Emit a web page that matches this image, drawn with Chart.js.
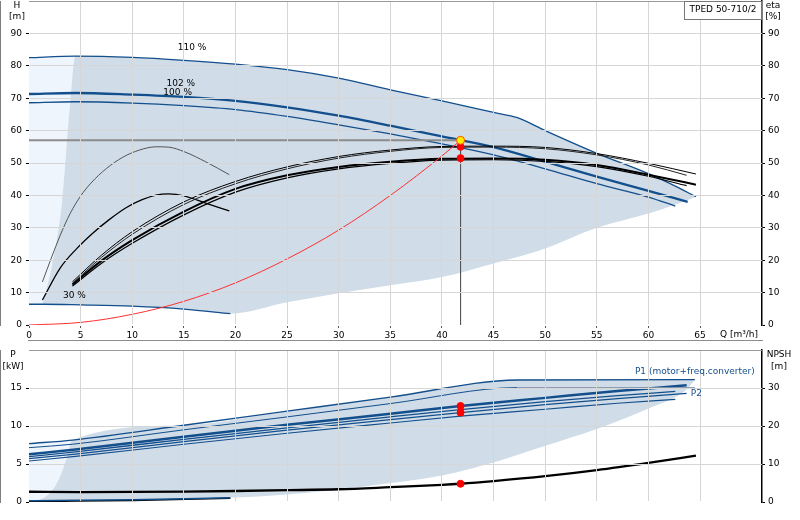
<!DOCTYPE html>
<html>
<head>
<meta charset="utf-8">
<title>TPED 50-710/2</title>
<script src="https://cdn.jsdelivr.net/npm/chart.js@4.4.1/dist/chart.umd.min.js"></script>
<style>
    html, body { margin: 0; padding: 0; background: #fff; }
    #wrap { position: relative; width: 800px; height: 520px; overflow: hidden; }
    canvas { position: absolute; left: 0; }
    #topChart { top: -4px; }
    #bottomChart { top: 340px; }
</style>
</head>
<body>
<div id="wrap">
    <canvas id="topChart" width="800" height="344"></canvas>
    <canvas id="bottomChart" width="800" height="180"></canvas>
</div>
<script>
// ============================================================
// TPED 50-710/2 - pump performance curves
// ============================================================

const BLUE = '#134f8c';
const SHADE = '#d0dce8';
const SHADE_LIGHT = '#eef5fc';
const GRID = '#d6d6d6';

// ---------------- Q-H (Q in m3/h, H in m) ----------------
const q110 = [0, 4.5, 10, 15, 20, 25, 30, 35, 40, 45, 47.3, 50, 55, 60, 62.5, 64.6];
const h110 = [82.5, 83, 82.6, 81.7, 80.5, 78.8, 76.2, 72.6, 69.2, 65.6, 64, 60, 53, 46.7, 43, 39.6];
const q102 = [0, 4.5, 10, 15, 20, 25, 30, 35, 40, 45, 50, 55, 60, 63.8];
const h102 = [71.3, 71.6, 71.1, 70.4, 69.2, 67.2, 64.6, 61.5, 58.2, 54.9, 50.4, 45.8, 41.4, 38];
const q100 = [0, 4.5, 10, 15, 20, 25, 30, 35, 40, 45, 50, 55, 60, 62.6];
const h100 = [68.6, 68.9, 68.5, 67.7, 66.5, 64.4, 61.8, 59, 55.9, 52.5, 48.2, 43.6, 39.5, 36.7];
const q30 = [0, 1.3, 5, 10, 15, 19.5];
const h30 = [6.4, 6.4, 6.2, 5.8, 4.9, 3.5];

// limits of the operating range
const qMinEdge = [1.3, 2.2, 3.2, 4.0];
const hMinEdge = [6.4, 18, 38, 69];
const qLowEdge = [19.5, 25, 30, 35, 40, 45, 50, 55, 60, 62.5, 64.6];
const hLowEdge = [3.5, 7, 9.8, 12.3, 14.8, 19, 23.6, 30, 34.4, 37, 39.6];

// system curve
const qSys = [0, 5, 10, 15, 20, 25, 30, 35, 40, 41.8];
const hSys = [0, 0.8, 3.3, 7.3, 13, 20.4, 29.3, 40, 52.2, 57];

// ---------------- efficiency (eta in %) ----------------
const qEtaA = [1.3, 2.2, 3, 4, 5, 6, 7.5, 9.1, 10.7, 12.3, 13.5, 15.1, 17.1, 19.4];
const etaA = [13.3, 21, 27.5, 34.5, 39.8, 43.8, 48.3, 51.8, 54, 55, 54.9, 53.4, 50.4, 46.4];
const qEtaB = [1.3, 3, 4.6, 6.2, 7.8, 9.4, 10.9, 12.3, 13.5, 15.1, 17.1, 19.4];
const etaB = [7.7, 17.5, 23.5, 28.4, 32.6, 36.2, 38.6, 40.1, 40.5, 39.8, 37.6, 35.2];
const qEtaLong = [4.2, 7, 10, 15, 20, 25, 30, 35, 40, 45, 50, 55, 60, 64.6];
const qEtaShort = [4.2, 7, 10, 15, 20, 25, 30, 35, 40, 45, 50, 55, 60, 63.7];
const etaU1 = [13.3, 21.5, 28.8, 38, 44.3, 48.8, 52, 54, 55.1, 55.2, 54.8, 52.9, 49.9, 46.6];
const etaU2 = [12.8, 20.8, 28, 37.2, 43.6, 48.2, 51.5, 53.6, 54.8, 54.9, 54.4, 52.5, 49.4, 46.2];
const etaL1 = [12.5, 19.8, 26.2, 35, 42, 46.2, 48.8, 50.4, 51.3, 51.4, 51, 49.4, 46.4, 43.3];
const etaL2 = [12, 19, 25.2, 34, 41, 45.4, 48.2, 49.9, 50.9, 51, 50.5, 48.9, 45.9, 43];

// duty point
const qDuty = [41.8];
const hDuty = [57];
const etaDuty = [55, 51.5];

// ---------------- power (kW) and NPSH (m) ----------------
const qP1max = [0, 4.2, 15, 25, 35, 47.3, 64.5];
const pP1max = [7.68, 8.15, 10.1, 11.95, 13.8, 16.05, 16.1];
const qP2max = [0, 4.2, 15, 25, 35, 47.3, 64.5];
const pP2max = [7.15, 7.6, 9.5, 11.2, 12.95, 15.05, 15.05];
const qP102 = [0, 4.5, 15, 25, 35, 41.8, 50, 57, 63.7];
const pP1_102 = [6.27, 6.9, 8.6, 10.15, 11.6, 12.63, 13.7, 14.6, 15.35];
const pP2_102 = [5.7, 6.3, 7.95, 9.45, 10.85, 11.76, 12.8, 13.6, 14.3];
const qP100 = [0, 4.5, 15, 25, 35, 41.8, 50, 57, 62.6];
const pP1_100 = [5.97, 6.6, 8.25, 9.75, 11.2, 12.15, 13.2, 14.0, 14.55];
const pP2_100 = [5.4, 6.0, 7.6, 9.05, 10.4, 11.3, 12.2, 13.0, 13.5];
const qP30 = [0, 0.5, 10, 19.5];
const pP1_30 = [0.15, 0.16, 0.3, 0.55];
const pP2_30 = [0.05, 0.06, 0.2, 0.48];

const qPEdge = [0.5, 1.5, 2.5, 3.2, 3.7];
const pPEdge = [0.16, 0.6, 2.0, 4.0, 6.0];
const qPLow = [19.5, 25, 30, 35, 40, 45, 50, 55, 60, 63.7, 64.5];
const pPLow = [0.55, 1.0, 1.65, 2.5, 3.5, 5.2, 7.4, 9.6, 12.3, 14.8, 16.1];

const qNpsh = [0, 5, 10, 15, 20, 25, 30, 35, 40, 41.8, 45, 50, 55, 60, 64.6];
const npsh = [2.7, 2.6, 2.65, 2.75, 2.9, 3.1, 3.35, 3.9, 4.5, 4.8, 5.5, 6.8, 8.4, 10.3, 12.2];

const pDuty = [12.63, 11.76];
const npshDuty = [4.8];

// ============================================================
// HELPERS
// ============================================================

function pts(qs, vs) {
    return qs.map((q, i) => ({ x: q, y: vs[i] }));
}

function curve(data, color, width, extra) {
    return Object.assign({
        data: data,
        borderColor: color,
        borderWidth: width,
        pointRadius: 0,
        fill: false,
        cubicInterpolationMode: 'monotone'
    }, extra || {});
}

function area(data, color, fillTo) {
    return {
        data: data,
        borderWidth: 0,
        borderColor: 'rgba(0,0,0,0)',
        backgroundColor: color,
        pointRadius: 0,
        fill: fillTo,
        cubicInterpolationMode: 'monotone'
    };
}

function dots(data, axis, bg, border, r) {
    return {
        data: data,
        yAxisID: axis,
        showLine: false,
        pointRadius: r,
        pointBackgroundColor: bg,
        pointBorderColor: border,
        pointBorderWidth: 1
    };
}

const gridColor = c => (c.tick && c.tick.value === 0) ? 'rgba(0,0,0,0)' : GRID;

function xScale(labels, height) {
    return {
        type: 'linear', min: 0, max: 71,
        ticks: {
            stepSize: 5, includeBounds: false, display: labels, autoSkip: false,
            maxRotation: 0, padding: 2, color: '#000',
            callback: v => v <= 65 ? v : null
        },
        grid: { color: gridColor, z: 1, drawTicks: labels, tickLength: 3, tickColor: '#555' },
        border: { color: '#8c8c8c', width: 2 },
        afterFit: s => { s.height = height; }
    };
}

function yScale(pos, max, step, width) {
    const left = pos === 'left';
    return {
        type: 'linear', position: pos, min: 0, max: max,
        ticks: {
            stepSize: step, padding: left ? 4 : 3, color: '#000',
            callback: v => v < max ? v : null
        },
        grid: left
            ? { color: gridColor, z: 1, tickLength: 3, tickColor: '#000' }
            : { drawOnChartArea: false, tickLength: 3, tickColor: '#000' },
        border: { color: '#000', width: left ? 1 : 1.5 },
        afterFit: s => { s.width = width; s.paddingTop = 0; }
    };
}

// texts, axis titles and frame
const textPlugin = {
    id: 'texts',
    afterDraw(chart, args, opts) {
        const ctx = chart.ctx;
        const a = chart.chartArea;
        ctx.save();
        ctx.font = '9px "DejaVu Sans"';
        ctx.textBaseline = 'middle';

        ctx.strokeStyle = '#9a9a9a';
        ctx.lineWidth = 1;
        ctx.beginPath();
        ctx.moveTo(a.left, a.top + 0.5);
        ctx.lineTo(a.right, a.top + 0.5);
        ctx.stroke();

        (opts.labels || []).forEach(t => {
            const x = chart.scales.x.getPixelForValue(t.x);
            const y = chart.scales[t.axis || 'y'].getPixelForValue(t.y);
            ctx.fillStyle = t.color || '#000';
            ctx.textAlign = t.align || 'center';
            ctx.fillText(t.text, x, y);
        });

        (opts.titles || []).forEach(t => {
            ctx.fillStyle = '#000';
            ctx.textAlign = 'center';
            const x = t.side === 'left' ? a.left + t.dx : a.right + t.dx;
            const y = t.bottom ? a.bottom + t.dy : a.top + t.dy;
            ctx.fillText(t.text, x, y);
        });

        if (opts.box) {
            const w = 78, h = 19;
            ctx.fillStyle = '#fff';
            ctx.fillRect(a.right - w, a.top, w, h);
            ctx.strokeStyle = '#777';
            ctx.strokeRect(a.right - w + 0.5, a.top + 0.5, w - 1, h - 1);
            ctx.fillStyle = '#000';
            ctx.textAlign = 'center';
            ctx.fillText(opts.box, a.right - w / 2, a.top + 9);
        }
        ctx.restore();
    }
};

Chart.defaults.font.family = 'DejaVu Sans';
Chart.defaults.font.size = 9;
Chart.defaults.color = '#000';

// ============================================================
// TOP CHART - H and eta
// ============================================================

function graficoTopo() {
    const lightTop = pts(q110, h110).slice(0, 2);
    const lightBottom = pts(q30, h30).slice(0, 1)
        .concat(pts(qMinEdge, hMinEdge), pts(q110, h110).slice(1, 2));
    const rangeTop = pts(qMinEdge, hMinEdge).concat(pts(q110, h110).slice(1));
    const rangeBottom = pts(q30, h30).slice(1).concat(pts(qLowEdge, hLowEdge).slice(1));

    const datasets = [
        dots(pts(qDuty, hDuty), 'y', '#ffee00', '#ff4d00', 4),
        dots(pts([qDuty[0], qDuty[0]], etaDuty), 'y2', '#ff0000', '#ff0000', 3.5),
        curve(pts(qSys, hSys), '#ff3030', 1),
        curve(pts([0, qDuty[0]], [hDuty[0], hDuty[0]]), '#8c8c8c', 2, { cubicInterpolationMode: 'default', tension: 0 }),
        curve(pts([qDuty[0], qDuty[0]], [hDuty[0], 0]), '#555', 1, { cubicInterpolationMode: 'default', tension: 0 }),
        curve(pts(qEtaLong, etaU1), '#000', 1, { yAxisID: 'y2' }),
        curve(pts(qEtaShort, etaU2), '#222', 1, { yAxisID: 'y2' }),
        curve(pts(qEtaLong, etaL1), '#000', 2, { yAxisID: 'y2' }),
        curve(pts(qEtaShort, etaL2), '#000', 1.2, { yAxisID: 'y2' }),
        curve(pts(qEtaA, etaA), '#555', 1, { yAxisID: 'y2' }),
        curve(pts(qEtaB, etaB), '#000', 1.3, { yAxisID: 'y2' }),
        curve(pts(q110, h110), BLUE, 1.3),
        curve(pts(q102, h102), BLUE, 2.3),
        curve(pts(q100, h100), BLUE, 1.3),
        curve(pts(q30, h30), BLUE, 1.3),
        area(rangeTop, SHADE, '+1'),
        area(rangeBottom, SHADE, false),
        area(lightTop, SHADE_LIGHT, '+1'),
        area(lightBottom, SHADE_LIGHT, false)
    ];

    new Chart(document.getElementById('topChart'), {
        type: 'line',
        data: { datasets: datasets },
        plugins: [textPlugin],
        options: {
            responsive: false, animation: false, devicePixelRatio: 1, events: [],
            layout: { padding: 0 },
            scales: {
                x: xScale(true, 15),
                y: yScale('left', 100, 10, 29),
                y2: yScale('right', 100, 10, 38)
            },
            plugins: {
                legend: { display: false },
                tooltip: { enabled: false },
                texts: {
                    labels: [
                        { text: '110 %', x: 15.8, y: 85.6 },
                        { text: '102 %', x: 14.7, y: 74.4 },
                        { text: '100 %', x: 14.4, y: 71.6 },
                        { text: '30 %', x: 4.4, y: 9 }
                    ],
                    titles: [
                        { text: 'H', side: 'left', dx: -12, dy: 5 },
                        { text: '[m]', side: 'left', dx: -12, dy: 16 },
                        { text: 'eta', side: 'right', dx: 11, dy: 5 },
                        { text: '[%]', side: 'right', dx: 11, dy: 16 },
                        { text: 'Q [m³/h]', side: 'right', dx: -23, dy: 10, bottom: true }
                    ],
                    box: 'TPED 50-710/2'
                }
            }
        }
    });
}

// ============================================================
// BOTTOM CHART - P and NPSH
// ============================================================

function graficoBaixo() {
    const lightTop = pts(qP1max, pP1max).slice(0, 2);
    const lightBottom = pts([0], [0])
        .concat(pts(qPEdge, pPEdge), pts(qP1max, pP1max).slice(1, 2));
    const rangeTop = pts(qPEdge, pPEdge).concat(pts(qP1max, pP1max).slice(1));
    const rangeBottom = pts(qP30, pP1_30).slice(1).concat(pts(qPLow, pPLow).slice(1));

    const datasets = [
        dots(pts([qDuty[0], qDuty[0]], pDuty), 'y', '#ff0000', '#ff0000', 3.5),
        dots(pts(qDuty, npshDuty), 'y2', '#ff0000', '#ff0000', 3.5),
        curve(pts(qNpsh, npsh), '#000', 2.3, { yAxisID: 'y2' }),
        curve(pts(qP30, pP1_30), BLUE, 1.5),
        curve(pts(qP30, pP2_30), '#000', 1.5),
        curve(pts(qP1max, pP1max), BLUE, 1.3),
        curve(pts(qP2max, pP2max), BLUE, 1, {
            segment: { borderColor: c => c.p0.parsed.x >= 47 ? '#8596aa' : BLUE }
        }),
        curve(pts(qP102, pP1_102), BLUE, 2.5),
        curve(pts(qP100, pP1_100), BLUE, 1.3),
        curve(pts(qP102, pP2_102), BLUE, 1.3),
        curve(pts(qP100, pP2_100), BLUE, 1.1),
        area(rangeTop, SHADE, '+1'),
        area(rangeBottom, SHADE, false),
        area(lightTop, SHADE_LIGHT, '+1'),
        area(lightBottom, SHADE_LIGHT, false)
    ];

    new Chart(document.getElementById('bottomChart'), {
        type: 'line',
        data: { datasets: datasets },
        plugins: [textPlugin],
        options: {
            responsive: false, animation: false, devicePixelRatio: 1, events: [],
            layout: { padding: { top: 10 } },
            scales: {
                x: xScale(false, 18),
                y: yScale('left', 20, 5, 29),
                y2: yScale('right', 40, 10, 38)
            },
            plugins: {
                legend: { display: false },
                tooltip: { enabled: false },
                texts: {
                    labels: [
                        { text: 'P1 (motor+freq.converter)', x: 70.3, y: 17.2, align: 'right', color: BLUE },
                        { text: 'P2', x: 64.1, y: 14.26, align: 'left', color: BLUE }
                    ],
                    titles: [
                        { text: 'P', side: 'left', dx: -16, dy: 5 },
                        { text: '[kW]', side: 'left', dx: -16, dy: 16.5 },
                        { text: 'NPSH', side: 'right', dx: 17, dy: 5 },
                        { text: '[m]', side: 'right', dx: 17, dy: 17 }
                    ]
                }
            }
        }
    });
}

graficoTopo();
graficoBaixo();
</script>
</body>
</html>
